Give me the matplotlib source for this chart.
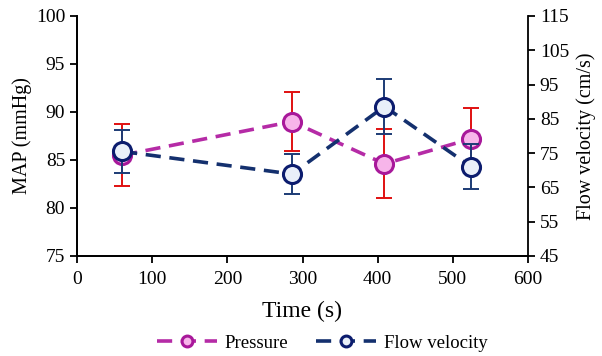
import matplotlib
matplotlib.use("Agg")
import matplotlib.pyplot as plt

plt.rcParams['font.family'] = ['Liberation Serif', 'DejaVu Serif']

time_s = [60, 286, 409, 524]
pressure = [85.5, 89.0, 84.6, 87.2]
pressure_err = [3.2, 3.1, 3.6, 3.2]
flow = [75.5, 68.9, 88.6, 71.1]
flow_err = [6.3, 5.9, 7.9, 6.6]

x_ticks = [0, 100, 200, 300, 400, 500, 600]
map_ticks = [75, 80, 85, 90, 95, 100]
flow_ticks = [45, 55, 65, 75, 85, 95, 105, 115]

p_line = '#b52ba6'
p_edge = '#a8189a'
p_face = '#f7b5ea'
p_err = '#e01010'
f_line = '#14306e'
f_edge = '#0c1c6e'
f_face = '#e9eff9'
f_err = '#1c3b75'

fig = plt.figure(figsize=(6.02, 3.56), dpi=100)
ax = fig.add_axes([77/602, 1-256/356, (528-77)/602, 240/356])
ax2 = ax.twinx()

ax.errorbar(time_s, pressure, yerr=pressure_err, fmt='none', ecolor=p_err,
            elinewidth=1.4, capsize=6, capthick=1.4, zorder=2)
lp, = ax.plot(time_s, pressure, color=p_line, lw=2.6, dashes=(4.2, 2.4),
              marker='o', ms=13, mfc=p_face, mec=p_edge, mew=2.2, zorder=3,
              label='Pressure')

ax2.errorbar(time_s, flow, yerr=flow_err, fmt='none', ecolor=f_err,
             elinewidth=1.4, capsize=6, capthick=1.4, zorder=2)
lf, = ax2.plot(time_s, flow, color=f_line, lw=2.6, dashes=(4.2, 2.4),
               marker='o', ms=13, mfc=f_face, mec=f_edge, mew=2.2, zorder=3,
               label='Flow velocity')

ax.set_xlim(0, 600)
ax.set_ylim(75, 100)
ax2.set_ylim(45, 115)
ax.set_xticks(x_ticks)
ax.set_yticks(map_ticks)
ax2.set_yticks(flow_ticks)

for a in (ax, ax2):
    a.spines['top'].set_visible(False)
    for s in a.spines.values():
        s.set_linewidth(1.3)
    a.tick_params(direction='out', length=5, width=1.3, labelsize=14)
ax.tick_params(axis='x', pad=6)
ax.spines['right'].set_visible(False)

ax.set_xlabel('Time (s)', fontsize=17, labelpad=9)
ax.set_ylabel('MAP (mmHg)', fontsize=14.5, labelpad=3)
ax2.set_ylabel('Flow velocity (cm/s)', fontsize=14.5, labelpad=5)

fig.legend(handles=[lp, lf], loc='lower center', bbox_to_anchor=(0.535, -0.035),
           ncol=2, frameon=False, fontsize=13.5, markerscale=0.6,
           handlelength=3.2, columnspacing=1.5, handletextpad=0.4)

fig.savefig('out.png', dpi=100)
